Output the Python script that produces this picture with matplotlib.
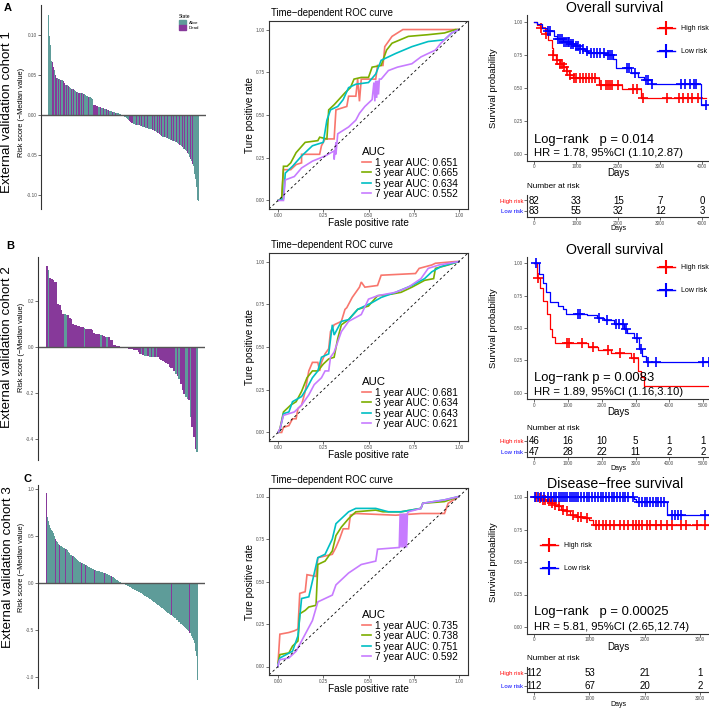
import numpy as np
import matplotlib
matplotlib.use("Agg")
import matplotlib.pyplot as plt
from matplotlib.lines import Line2D
from matplotlib.patches import Patch

plt.rcParams['font.family'] = ['Liberation Sans', 'DejaVu Sans']

# ---------------- risk score waterfalls (score - median) ----------------
risk1 = [0.125, 0.099, 0.088, 0.068, 0.066, 0.063, 0.060, 0.056, 0.050, 0.046,
         0.046, 0.045, 0.045, 0.044, 0.044, 0.044, 0.042, 0.041, 0.040, 0.038,
         0.0375, 0.037, 0.036, 0.035, 0.034, 0.033, 0.033, 0.032, 0.031, 0.030,
         0.030, 0.029, 0.029, 0.028, 0.028, 0.028, 0.027, 0.027, 0.026, 0.026,
         0.025, 0.025, 0.024, 0.024, 0.023, 0.023, 0.022, 0.021, 0.020, 0.013,
         0.012, 0.012, 0.011, 0.011, 0.011, 0.010, 0.010, 0.010, 0.009, 0.009,
         0.009, 0.008, 0.008, 0.007, 0.007, 0.006, 0.006, 0.005, 0.005, 0.005,
         0.004, 0.004, 0.004, 0.003, 0.003, 0.003, 0.002, 0.002, 0.001, 0.001, 0.0005, 0.0002,
         -0.001, -0.002, -0.003, -0.004, -0.005, -0.006, -0.007, -0.008, -0.009, -0.010,
         -0.010, -0.011, -0.011, -0.012, -0.012, -0.013, -0.013, -0.013, -0.014, -0.014,
         -0.014, -0.015, -0.015, -0.015, -0.016, -0.016, -0.016, -0.017, -0.017, -0.018,
         -0.018, -0.018, -0.019, -0.019, -0.020, -0.020, -0.021, -0.022, -0.023, -0.024,
         -0.025, -0.025, -0.026, -0.027, -0.027, -0.028, -0.028, -0.029, -0.029, -0.030,
         -0.030, -0.031, -0.031, -0.032, -0.032, -0.033, -0.033, -0.034, -0.034, -0.035,
         -0.036, -0.037, -0.038, -0.039, -0.040, -0.041, -0.042, -0.043, -0.044, -0.045,
         -0.047, -0.049, -0.052, -0.055, -0.058, -0.061, -0.064, -0.068, -0.074, -0.080,
         -0.090, -0.106, -0.108]
dead1 = [4, 6, 8, 9, 11, 13, 16, 18, 20, 22, 25, 27, 29, 31, 33, 34, 36, 38, 41, 44,
         49, 50, 51, 52, 53, 54, 57, 60, 63, 66, 70, 73,
         89, 90, 91, 92, 96, 99, 102, 105, 108, 111, 114, 116, 119, 121, 124, 127, 130,
         134, 137, 140, 143, 146, 149, 152, 155, 157, 159]

risk2 = [0.351, 0.333, 0.297, 0.296, 0.292, 0.283, 0.280, 0.186, 0.183, 0.159,
         0.145, 0.142, 0.140, 0.138, 0.126, 0.123, 0.101, 0.095, 0.094, 0.092,
         0.089, 0.087, 0.085, 0.082, 0.080, 0.079, 0.078, 0.076, 0.075, 0.060,
         0.058, 0.057, 0.055, 0.052, 0.051, 0.048, 0.045, 0.044, 0.043, 0.030,
         0.029, 0.010, 0.007, 0.004, 0.003, 0.002,
         -0.001, -0.003, -0.004, -0.006, -0.008, -0.009, -0.010, -0.012, -0.013, -0.015,
         -0.022, -0.029, -0.031, -0.035, -0.038, -0.040, -0.041, -0.042, -0.042, -0.043,
         -0.043, -0.044, -0.044, -0.052, -0.058, -0.062, -0.065, -0.069, -0.072, -0.085,
         -0.090, -0.092, -0.105, -0.116, -0.125, -0.138, -0.160, -0.188, -0.205, -0.217,
         -0.225, -0.232, -0.304, -0.348, -0.391, -0.442, -0.457]
alive2 = [1, 11, 12, 23, 33, 37, 58, 60, 61, 63, 65, 67, 79, 81, 85, 86, 88, 92]

risk3 = [0.95, 0.84, 0.70, 0.66, 0.64, 0.61, 0.58, 0.57, 0.56, 0.55,
         0.54, 0.53, 0.50, 0.47, 0.45, 0.44, 0.43, 0.42, 0.41, 0.40,
         0.40, 0.39, 0.39, 0.38, 0.38, 0.37, 0.37, 0.37, 0.36, 0.36,
         0.36, 0.35, 0.34, 0.33, 0.32, 0.31, 0.30, 0.29, 0.29, 0.28,
         0.28, 0.27, 0.27, 0.26, 0.25, 0.25, 0.24, 0.23, 0.23, 0.22,
         0.22, 0.21, 0.21, 0.21, 0.20, 0.20, 0.20, 0.19, 0.19, 0.19,
         0.18, 0.18, 0.17, 0.17, 0.17, 0.16, 0.16, 0.16, 0.15, 0.15,
         0.15, 0.14, 0.14, 0.14, 0.13, 0.13, 0.13, 0.12, 0.12, 0.12,
         0.115, 0.11, 0.11, 0.11, 0.105, 0.10, 0.10, 0.10, 0.10, 0.095,
         0.09, 0.085, 0.08, 0.08, 0.075, 0.07, 0.07, 0.065, 0.064, 0.06,
         0.05, 0.04, 0.035, 0.03, 0.028, 0.025, 0.02, 0.015, 0.012, 0.008, 0.005, 0.002,
         -0.003, -0.006, -0.01, -0.014, -0.018, -0.022, -0.027, -0.032, -0.035, -0.038,
         -0.042, -0.045, -0.049, -0.053, -0.057, -0.062, -0.066, -0.07, -0.074, -0.078,
         -0.082, -0.086, -0.09, -0.094, -0.098, -0.102, -0.106, -0.11, -0.114, -0.119,
         -0.123, -0.127, -0.132, -0.136, -0.141, -0.146, -0.15, -0.155, -0.16, -0.165,
         -0.17, -0.175, -0.18, -0.185, -0.19, -0.195, -0.20, -0.205, -0.21, -0.216,
         -0.222, -0.228, -0.234, -0.24, -0.245, -0.25, -0.255, -0.26, -0.266, -0.272,
         -0.278, -0.284, -0.29, -0.296, -0.302, -0.31, -0.315, -0.32, -0.326, -0.331,
         -0.336, -0.341, -0.346, -0.351, -0.356, -0.36, -0.366, -0.373, -0.38, -0.387,
         -0.394, -0.401, -0.408, -0.415, -0.422, -0.43, -0.436, -0.442, -0.448, -0.454,
         -0.46, -0.466, -0.472, -0.478, -0.486, -0.494, -0.502, -0.51, -0.52, -0.53,
         -0.54, -0.555, -0.57, -0.585, -0.60, -0.61, -0.64, -0.68, -0.73, -0.78, -0.82, -1.03]
dead3 = [0, 1, 13, 19, 28, 39, 52, 58, 71, 79, 86, 96, 126, 160, 184, 211]

# ---------------- time-dependent ROC ----------------
roc_years = ['1 year', '3 year', '5 year', '7 year']
aucA = ['0.651', '0.665', '0.634', '0.552']
aucB = ['0.681', '0.634', '0.643', '0.621']
aucC = ['0.735', '0.738', '0.751', '0.592']

a1_fpr = [0, 0.02, 0.03, 0.07, 0.10, 0.13, 0.13, 0.23, 0.24, 0.26, 0.31, 0.32, 0.38, 0.39, 0.43, 0.44, 0.45, 0.46, 0.54, 0.55, 0.58, 0.59, 0.63, 0.69, 1.0]
a1_tpr = [0, 0.01, 0.18, 0.18, 0.21, 0.22, 0.27, 0.27, 0.32, 0.36, 0.36, 0.53, 0.55, 0.61, 0.61, 0.71, 0.58, 0.71, 0.71, 0.79, 0.79, 0.90, 0.96, 1.0, 1.0]
a3_fpr = [0, 0.02, 0.03, 0.05, 0.07, 0.10, 0.15, 0.22, 0.23, 0.27, 0.28, 0.31, 0.37, 0.40, 0.42, 0.46, 0.50, 0.52, 0.57, 0.60, 0.63, 0.72, 0.83, 0.92, 0.98, 1.0]
a3_tpr = [0, 0.01, 0.20, 0.20, 0.22, 0.28, 0.34, 0.35, 0.37, 0.36, 0.53, 0.56, 0.63, 0.66, 0.71, 0.72, 0.72, 0.78, 0.79, 0.88, 0.92, 0.96, 0.97, 0.98, 1.0, 1.0]
a5_fpr = [0, 0.03, 0.04, 0.08, 0.13, 0.19, 0.25, 0.27, 0.29, 0.33, 0.36, 0.39, 0.43, 0.50, 0.54, 0.57, 0.65, 0.74, 0.83, 0.92, 0.96, 1.0]
a5_tpr = [0, 0.01, 0.16, 0.20, 0.26, 0.32, 0.34, 0.47, 0.53, 0.55, 0.59, 0.66, 0.68, 0.69, 0.74, 0.82, 0.86, 0.90, 0.93, 0.94, 0.98, 1.0]
a7_fpr = [0, 0.03, 0.04, 0.09, 0.13, 0.19, 0.26, 0.31, 0.31, 0.32, 0.32, 0.33, 0.39, 0.43, 0.45, 0.48, 0.52, 0.53, 0.535, 0.54, 0.545, 0.55, 0.555, 0.56, 0.57, 0.61, 0.66, 0.74, 0.79, 0.87, 0.90, 0.96, 1.0]
a7_tpr = [0, 0.0, 0.12, 0.14, 0.19, 0.23, 0.26, 0.29, 0.24, 0.34, 0.27, 0.39, 0.43, 0.47, 0.51, 0.55, 0.59, 0.69, 0.58, 0.70, 0.60, 0.70, 0.62, 0.71, 0.71, 0.76, 0.78, 0.80, 0.84, 0.88, 0.92, 0.98, 1.0]

b1_fpr = [0, 0.02, 0.03, 0.06, 0.08, 0.10, 0.11, 0.13, 0.15, 0.17, 0.19, 0.22, 0.23, 0.24, 0.26, 0.28, 0.29, 0.31, 0.35, 0.37, 0.38, 0.41, 0.43, 0.45, 0.46, 0.48, 0.55, 0.57, 0.76, 0.78, 0.85, 0.87, 0.98, 1.0]
b1_tpr = [0, 0.0, 0.03, 0.04, 0.08, 0.08, 0.14, 0.16, 0.24, 0.36, 0.41, 0.41, 0.36, 0.41, 0.46, 0.49, 0.59, 0.63, 0.65, 0.72, 0.73, 0.79, 0.82, 0.85, 0.88, 0.85, 0.86, 0.92, 0.93, 0.96, 0.98, 0.99, 1.0, 1.0]
b3_fpr = [0, 0.01, 0.03, 0.07, 0.10, 0.13, 0.16, 0.19, 0.22, 0.25, 0.28, 0.31, 0.33, 0.35, 0.39, 0.44, 0.50, 0.55, 0.63, 0.68, 0.74, 0.81, 0.86, 0.87, 0.94, 1.0]
b3_tpr = [0, 0.02, 0.12, 0.16, 0.18, 0.24, 0.32, 0.36, 0.36, 0.40, 0.43, 0.44, 0.55, 0.63, 0.66, 0.72, 0.74, 0.80, 0.81, 0.82, 0.85, 0.89, 0.90, 0.96, 0.98, 1.0]
b5_fpr = [0, 0.01, 0.03, 0.06, 0.08, 0.13, 0.16, 0.19, 0.22, 0.24, 0.28, 0.30, 0.31, 0.33, 0.35, 0.39, 0.44, 0.52, 0.57, 0.65, 0.74, 0.81, 0.85, 0.90, 1.0]
b5_tpr = [0, 0.01, 0.11, 0.12, 0.18, 0.21, 0.26, 0.32, 0.36, 0.44, 0.46, 0.63, 0.57, 0.61, 0.65, 0.66, 0.72, 0.76, 0.79, 0.82, 0.86, 0.90, 0.94, 0.97, 1.0]
b7_fpr = [0, 0.01, 0.03, 0.09, 0.13, 0.17, 0.20, 0.24, 0.26, 0.28, 0.29, 0.31, 0.35, 0.39, 0.46, 0.50, 0.55, 0.65, 0.72, 0.79, 0.83, 0.89, 1.0]
b7_tpr = [0, 0.02, 0.10, 0.12, 0.16, 0.22, 0.28, 0.32, 0.36, 0.36, 0.44, 0.47, 0.59, 0.65, 0.69, 0.78, 0.80, 0.82, 0.85, 0.90, 0.96, 0.98, 1.0]

c1_fpr = [0, 0.0, 0.01, 0.06, 0.09, 0.11, 0.12, 0.15, 0.16, 0.21, 0.22, 0.30, 0.32, 0.34, 0.36, 0.39, 0.40, 0.43, 0.65, 0.79, 0.92, 0.94, 1.0]
c1_tpr = [0, 0.02, 0.19, 0.20, 0.21, 0.22, 0.43, 0.44, 0.54, 0.53, 0.64, 0.66, 0.70, 0.75, 0.81, 0.81, 0.89, 0.90, 0.89, 0.90, 0.90, 0.96, 1.0]
c3_fpr = [0, 0.0, 0.01, 0.06, 0.08, 0.11, 0.12, 0.15, 0.17, 0.21, 0.22, 0.26, 0.30, 0.32, 0.35, 0.39, 0.43, 0.54, 0.58, 0.68, 0.79, 0.80, 0.92, 1.0]
c3_tpr = [0, 0.02, 0.07, 0.08, 0.12, 0.15, 0.31, 0.33, 0.35, 0.36, 0.60, 0.62, 0.68, 0.77, 0.82, 0.87, 0.91, 0.92, 0.91, 0.91, 0.93, 0.96, 0.97, 1.0]
c5_fpr = [0, 0.0, 0.01, 0.08, 0.11, 0.12, 0.13, 0.17, 0.22, 0.26, 0.30, 0.32, 0.35, 0.39, 0.43, 0.54, 0.61, 0.68, 0.79, 0.80, 0.92, 1.0]
c5_tpr = [0, 0.01, 0.05, 0.09, 0.18, 0.29, 0.40, 0.41, 0.64, 0.66, 0.75, 0.84, 0.87, 0.91, 0.93, 0.93, 0.91, 0.91, 0.93, 0.96, 0.98, 1.0]
c7_fpr = [0, 0.0, 0.01, 0.06, 0.10, 0.13, 0.19, 0.22, 0.30, 0.32, 0.39, 0.46, 0.54, 0.55, 0.67, 0.675, 0.68, 0.685, 0.69, 0.695, 0.70, 0.705, 0.71, 0.715, 0.72, 0.79, 0.80, 0.92, 1.0]
c7_tpr = [0, 0.01, 0.04, 0.05, 0.09, 0.15, 0.27, 0.38, 0.42, 0.48, 0.55, 0.60, 0.62, 0.69, 0.70, 0.90, 0.70, 0.90, 0.70, 0.90, 0.70, 0.90, 0.70, 0.90, 0.91, 0.93, 0.96, 0.98, 1.0]

# ---------------- Kaplan-Meier ----------------
hiA_t = [0, 70, 140, 250, 330, 410, 450, 520, 600, 680, 760, 830, 930, 1530, 2100, 2550]
hiA_s = [1.0, 0.975, 0.95, 0.91, 0.86, 0.80, 0.75, 0.71, 0.68, 0.66, 0.63, 0.60, 0.57, 0.52, 0.49, 0.42]
hiA_cens = [150, 290, 450, 540, 610, 650, 700, 780, 850, 950, 1000, 1080, 1150, 1230, 1300, 1380,
            1450, 1600, 1700, 1750, 1800, 1850, 2000, 2350, 2450, 2600, 3150, 3450, 3550, 3650, 3750, 3900]
loA_t = [0, 60, 180, 300, 460, 540, 690, 850, 970, 1090, 1200, 1290, 1720, 1870, 1950, 2300, 2460, 2620, 2780, 3960]
loA_s = [1.0, 0.98, 0.955, 0.93, 0.89, 0.865, 0.845, 0.83, 0.815, 0.79, 0.775, 0.765, 0.745, 0.715, 0.65, 0.61, 0.585, 0.56, 0.525, 0.37]
loA_cens = [330, 380, 560, 620, 650, 700, 760, 800, 830, 880, 930, 1000, 1050, 1100, 1160, 1250, 1350,
            1420, 1500, 1560, 1650, 1750, 1800, 1850, 2200, 2250, 2400, 2650, 2700, 2800, 3500, 3600,
            3700, 3800, 3850, 4080]
endA = 4100

hiB_t = [0, 70, 170, 270, 370, 470, 520, 600, 1600, 1870, 2270, 2870, 3070, 3170, 3250]
hiB_s = [1.0, 0.89, 0.81, 0.71, 0.61, 0.49, 0.43, 0.38, 0.35, 0.33, 0.31, 0.27, 0.17, 0.12, 0.05]
hiB_cens = [120, 980, 1030, 1400, 1750, 2180, 2550, 2950]
loB_t = [0, 150, 250, 350, 450, 700, 850, 950, 1550, 1850, 2050, 2350, 2650, 2750, 2950, 3100, 3200, 3300]
loB_s = [1.0, 0.92, 0.85, 0.78, 0.70, 0.67, 0.65, 0.61, 0.60, 0.58, 0.56, 0.53, 0.49, 0.46, 0.42, 0.34, 0.28, 0.24]
loB_cens = [50, 1280, 1350, 1920, 2150, 2420, 2520, 2620, 2720, 3050, 3150, 3350, 3600, 4980, 5180]
endB = 5300

hiC_t = [0, 80, 120, 220, 290, 350, 400, 480, 580, 640, 760, 880, 1000, 1060]
hiC_s = [1.0, 0.99, 0.98, 0.97, 0.955, 0.94, 0.93, 0.90, 0.89, 0.865, 0.85, 0.84, 0.825, 0.785]
hiC_cens = [30, 100, 160, 200, 260, 320, 380, 440, 520, 600, 700, 800, 850, 950, 1120, 1180, 1250,
            1300, 1380, 1450, 1550, 1620, 1700, 1780, 1850, 1900, 1950, 2050, 2100, 2200, 2300, 2400,
            2500, 2650, 2750, 2950, 3100]
loC_t = [0, 1800, 1850, 2400]
loC_s = [1.0, 0.985, 0.965, 0.865]
loC_cens = [20, 60, 120, 180, 240, 300, 360, 400, 440, 480, 520, 560, 600, 640, 680, 720, 760, 800,
            850, 900, 950, 1000, 1050, 1100, 1150, 1200, 1250, 1300, 1350, 1400, 1450, 1500, 1550,
            1600, 1650, 1700, 1780, 1900, 1950, 2000, 2050, 2100, 2150, 2200, 2250, 2300, 2350, 2500,
            2550, 2600, 2650, 3100]
endC = 3200

# numbers at risk
nrA_t = [0, 1000, 2000, 3000, 4000]
nrA_hi = [82, 33, 15, 7, 0]
nrA_lo = [83, 55, 32, 12, 3]
nrB_t = [0, 1000, 2000, 3000, 4000, 5000]
nrB_hi = [46, 16, 10, 5, 1, 1]
nrB_lo = [47, 28, 22, 11, 2, 2]
nrC_t = [0, 1000, 2000, 3000]
nrC_hi = [112, 53, 21, 1]
nrC_lo = [112, 67, 20, 2]

# ---------------- figure ----------------
W, H = 709, 708
fig = plt.figure(figsize=(W / 100, H / 100), dpi=100)

TEAL = '#5e9c99'
PURP = '#87399a'
ROC_COLS = ['#F8766D', '#7CAE00', '#00BFC4', '#C77CFF']
GREY = '#4d4d4d'


def box(l, t, r, b):
    return fig.add_axes([l / W, 1 - b / H, (r - l) / W, (b - t) / H])


def txt(x, y, s, **kw):
    kw.setdefault('ha', 'center')
    kw.setdefault('va', 'center')
    fig.text(x / W, 1 - y / H, s, **kw)


def small_ticks(ax):
    ax.tick_params(labelsize=3.4, labelcolor=GREY, length=2, width=0.5, color='#333333', pad=0.8)


def waterfall(vals, dead, l, t, r, b, x0, x1, ylim, ticks, ticklabels):
    ax = box(l, t, r, b)
    n = len(vals)
    pw = (x1 - x0) / n
    idx = np.arange(n)
    cols = [PURP if i in dead else TEAL for i in idx]
    ax.bar(idx, vals, width=1.0, color=cols, linewidth=0)
    ax.axhline(0, color='#555555', lw=1.0)
    ax.set_xlim((l - x0) / pw - 0.5, (r - x0) / pw - 0.5)
    ax.set_ylim(*ylim)
    for s in ['top', 'right', 'bottom']:
        ax.spines[s].set_visible(False)
    ax.spines['left'].set_color('#333333')
    ax.spines['left'].set_linewidth(0.8)
    ax.set_xticks([])
    ax.set_yticks(ticks)
    ax.set_yticklabels(ticklabels)
    small_ticks(ax)
    return ax


def roc(curves, aucs, l, t, r, b, leg_xy):
    ax = box(l, t, r, b)
    handles = []
    for (f, tp), col, yr, a in zip(curves, ROC_COLS, roc_years, aucs):
        h, = ax.plot(f, tp, color=col, lw=1.2, solid_joinstyle='miter')
        handles.append((h, f'{yr} AUC: {a}'))
    ax.axline((0, 0), slope=1, color='black', lw=0.6, ls=(0, (3, 3)))
    ax.set_xlim(-0.05, 1.05)
    ax.set_ylim(-0.05, 1.05)
    tk = [0, 0.25, 0.5, 0.75, 1.0]
    ax.set_xticks(tk)
    ax.set_yticks(tk)
    ax.set_xticklabels(['0.00', '0.25', '0.50', '0.75', '1.00'])
    ax.set_yticklabels(['0.00', '0.25', '0.50', '0.75', '1.00'])
    small_ticks(ax)
    for s in ax.spines.values():
        s.set_color('#333333')
        s.set_linewidth(0.8)
    ax.legend([h for h, _ in handles], [s for _, s in handles], title='AUC',
              loc='upper left', bbox_to_anchor=(leg_xy[0] / W, 1 - leg_xy[1] / H),
              bbox_transform=fig.transFigure, frameon=False, fontsize=7.3,
              title_fontsize=8.2, handlelength=0.9, handletextpad=0.4,
              labelspacing=0.05, borderpad=0, borderaxespad=0, alignment='left')
    txt(l + 2, t - 8, 'Time\u2212dependent ROC curve', ha='left', fontsize=6.9)
    txt(250, (t + b) / 2, 'Ture positive rate', rotation=90, fontsize=7.1)
    txt((l + r) / 2, b + 14, 'Fasle positive rate', fontsize=7.2)
    return ax


def step_at(t, s, c):
    t = np.asarray(t)
    s = np.asarray(s)
    return s[np.searchsorted(t, c, side='right') - 1]


def km(groups, end, l, t, r, b, xlim, xticks, leg_xy, title, lr, hr, ylab_y):
    ax = box(l, t, r, b)
    handles = []
    for tt, ss, cc, col in groups:
        xs = np.r_[tt, end]
        ys = np.r_[ss, ss[-1]]
        ax.step(xs, ys, where='post', color=col, lw=0.9)
        cc = np.asarray(cc)
        ax.plot(cc, step_at(tt, ss, cc), ls='none', marker='+', ms=6.5, mew=1.2, color=col)
        handles.append(Line2D([], [], color=col, lw=1.0, marker='+', ms=10, mew=1.5))
    ax.set_xlim(*xlim)
    ax.set_ylim(-0.05, 1.05)
    ax.set_xticks(xticks)
    ax.set_yticks([0, 0.25, 0.5, 0.75, 1.0])
    ax.set_yticklabels(['0.00', '0.25', '0.50', '0.75', '1.00'])
    small_ticks(ax)
    for s in ['top', 'right']:
        ax.spines[s].set_visible(False)
    for s in ['left', 'bottom']:
        ax.spines[s].set_color('#333333')
        ax.spines[s].set_linewidth(0.8)
    ax.legend(handles, ['High risk', 'Low risk'], loc='upper left',
              bbox_to_anchor=(leg_xy[0] / W, 1 - leg_xy[1] / H), bbox_transform=fig.transFigure,
              frameon=False, fontsize=5.0, handlelength=2.6, handletextpad=0.9,
              labelspacing=2.3, borderpad=0, borderaxespad=0)
    txt((l + r) / 2 - 3, t - 7, title, fontsize=10.2)
    txt(493, ylab_y, 'Survival probability', rotation=90, fontsize=6.8)
    txt(618, b + 13, 'Days', fontsize=7)
    txt(534, b - 21, lr, ha='left', fontsize=9.4)
    txt(534, b - 7, hr, ha='left', fontsize=8.1)
    return ax


def risk_table(ts, hi, lo, l, t, r, b, xlim, xticks):
    ax = box(l, t, r, b)
    for x, n in zip(ts, hi):
        ax.text(x, 1, str(n), ha='center', va='center', fontsize=7)
    for x, n in zip(ts, lo):
        ax.text(x, 0, str(n), ha='center', va='center', fontsize=7)
    ax.set_xlim(*xlim)
    ax.set_ylim(-0.5, 1.5)
    ax.set_xticks(xticks)
    ax.set_yticks([1, 0])
    ax.set_yticklabels(['High risk', 'Low risk'])
    small_ticks(ax)
    ax.tick_params(axis='y', labelsize=4.3)
    ax.get_yticklabels()[0].set_color('red')
    ax.get_yticklabels()[1].set_color('blue')
    for s in ['top', 'right']:
        ax.spines[s].set_visible(False)
    for s in ['left', 'bottom']:
        ax.spines[s].set_color('#333333')
        ax.spines[s].set_linewidth(0.8)
    txt(527, t - 8, 'Number at risk', ha='left', fontsize=5.9)
    txt(618, b + 12, 'Days', fontsize=5)
    return ax


# ---- row labels ----
txt(7, 112, 'External validation cohort 1', rotation=90, fontsize=9.6)
txt(7, 347, 'External validation cohort 2', rotation=90, fontsize=9.6)
txt(8, 567, 'External validation cohort 3', rotation=90, fontsize=9.6)
txt(8, 8, 'A', fontsize=8, fontweight='bold')
txt(10, 246, 'B', fontsize=8, fontweight='bold')
txt(28, 479, 'C', fontsize=8, fontweight='bold')
for yy in [112, 347, 567]:
    txt(22, yy, 'Risk score (\u2212Median value)', rotation=90, fontsize=5.3)

# ---- waterfalls ----
axA = waterfall(risk1, dead1, 41, 5, 206, 209, 48, 199, (-0.1175, 0.1375),
                [0.10, 0.05, 0, -0.05, -0.10], ['0.10', '0.05', '0.00', '-0.05', '-0.10'])
axA.legend([Patch(color=TEAL), Patch(color=PURP)], ['Alive', 'Dead'], title='State',
           loc='upper left', bbox_to_anchor=(177 / W, 1 - 12 / H), bbox_transform=fig.transFigure,
           frameon=False, fontsize=3.2, title_fontsize=3.5, handlelength=1.6, handleheight=1.4,
           handletextpad=0.5, labelspacing=0.1, borderpad=0, alignment='left')
alive_idx = set(alive2)
dead2 = [i for i in range(len(risk2)) if i not in alive_idx]
waterfall(risk2, dead2, 38, 257, 205, 460, 46, 198, (-0.49, 0.39),
          [0.2, 0, -0.2, -0.4], ['0.2', '0.0', '-0.2', '-0.4'])
waterfall(risk3, dead3, 38, 485, 205, 688, 46, 198, (-1.12, 1.04),
          [1.0, 0.5, 0, -0.5, -1.0], ['1.0', '0.5', '0.0', '-0.5', '-1.0'])

# ---- ROC ----
roc([(a1_fpr, a1_tpr), (a3_fpr, a3_tpr), (a5_fpr, a5_tpr), (a7_fpr, a7_tpr)], aucA,
    269, 21, 468, 209, (362, 147))
roc([(b1_fpr, b1_tpr), (b3_fpr, b3_tpr), (b5_fpr, b5_tpr), (b7_fpr, b7_tpr)], aucB,
    269, 253, 468, 441, (362, 377))
roc([(c1_fpr, c1_tpr), (c3_fpr, c3_tpr), (c5_fpr, c5_tpr), (c7_fpr, c7_tpr)], aucC,
    269, 488, 468, 675, (362, 610))

# ---- KM ----
km([(hiA_t, hiA_s, hiA_cens, 'red'), (loA_t, loA_s, loA_cens, 'blue')], endA,
   527, 15, 709, 160.5, (-174, 4160), nrA_t, (657, 25), 'Overall survival',
   'Log\u2212rank   p = 0.014', 'HR = 1.78, 95%CI (1.10,2.87)', 88)
risk_table(nrA_t, nrA_hi, nrA_lo, 527, 195, 709, 217, (-174, 4160), nrA_t)

km([(hiB_t, hiB_s, hiB_cens, 'red'), (loB_t, loB_s, loB_cens, 'blue')], endB,
   527, 257, 709, 399, (-216, 5169), nrB_t, (657, 264), 'Overall survival',
   'Log\u2212rank p = 0.0083', 'HR = 1.89, 95%CI (1.16,3.10)', 328)
risk_table(nrB_t, nrB_hi, nrB_lo, 527, 436, 709, 457, (-216, 5169), nrB_t)

km([(hiC_t, hiC_s, hiC_cens, 'red'), (loC_t, loC_s, loC_cens, 'blue')], endC,
   527, 490.5, 709, 633.5, (-132, 3165), nrC_t, (540, 542), 'Disease\u2212free survival',
   'Log\u2212rank   p = 0.00025', 'HR = 5.81, 95%CI (2.65,12.74)', 562)
risk_table(nrC_t, nrC_hi, nrC_lo, 527, 667, 709, 692, (-132, 3165), nrC_t)

fig.savefig('out.png', dpi=100)
